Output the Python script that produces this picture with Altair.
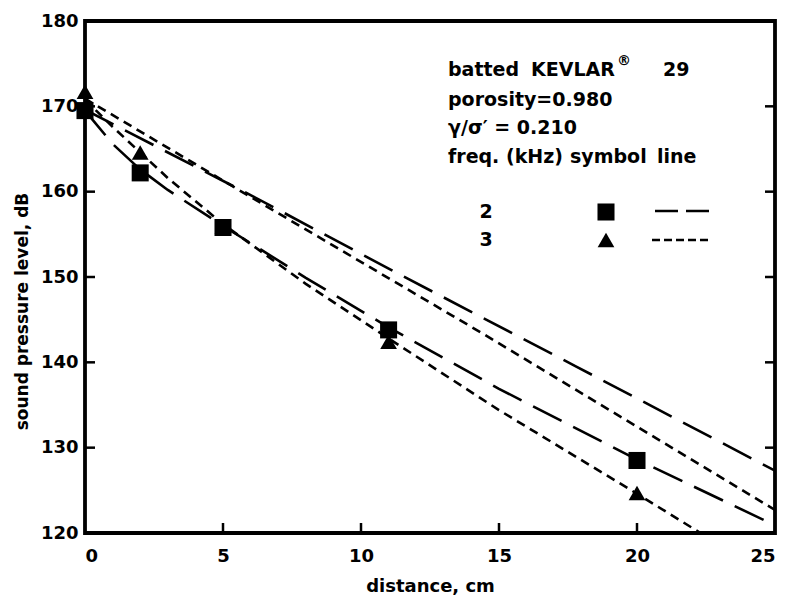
import altair as alt
import pandas as pd

# ---- measured points ----
dist_2k = [0, 2, 5, 11, 20]
spl_2k = [169.5, 162.2, 155.8, 143.8, 128.5]
dist_3k = [0, 2, 5, 11, 20]
spl_3k = [171.7, 164.6, 155.9, 142.4, 124.7]

# ---- theory curves ----
steep2_x = [0, 1, 2, 3, 5, 8, 11, 15, 20, 25]
steep2_y = [169.5, 165.6, 162.6, 160.2, 156.0, 149.9, 144.1, 136.9, 128.6, 120.9]
steep3_x = [0, 1, 2, 3, 5, 8, 11, 15, 20, 22.3]
steep3_y = [170.8, 167.6, 164.6, 161.6, 156.2, 149.2, 142.8, 134.4, 124.6, 120.0]
shallow2_x = [0, 6, 11.4, 17.8, 25]
shallow2_y = [169.6, 159.6, 150.3, 139.5, 127.3]
shallow3_x = [0, 6.2, 14.5, 25]
shallow3_y = [170.9, 159.0, 143.2, 122.7]

x_ticks = [0, 5, 10, 15, 20, 25]
y_ticks = [120, 130, 140, 150, 160, 170, 180]
inner_x_ticks = [5, 10, 15, 20]
inner_y_ticks = [130, 140, 150, 160, 170]

W, H = 690, 512
FONT = "DejaVu Sans"

xs = alt.Scale(domain=[0, 25], nice=False)
ys = alt.Scale(domain=[120, 180], nice=False)

curves = []
for name, f, xx, yy in [
    ("steep2", "2", steep2_x, steep2_y),
    ("steep3", "3", steep3_x, steep3_y),
    ("shallow2", "2", shallow2_x, shallow2_y),
    ("shallow3", "3", shallow3_x, shallow3_y),
]:
    for a, b in zip(xx, yy):
        curves.append({"curve": name, "freq": f, "x": a, "y": b})
curve_df = pd.DataFrame(curves)

pts2 = pd.DataFrame({"x": dist_2k, "y": spl_2k})
pts3 = pd.DataFrame({"x": dist_3k, "y": spl_3k})

lines = alt.Chart(curve_df).mark_line(color="black", strokeWidth=2.6, clip=True).encode(
    x=alt.X("x:Q", scale=xs, axis=alt.Axis(
        values=x_ticks, title="distance, cm", grid=False, domain=False, ticks=False,
        labelFont=FONT, labelFontSize=18, labelFontWeight="bold", labelColor="black",
        labelPadding=14, titleFont=FONT, titleFontSize=18, titleFontWeight="bold",
        titleColor="black", titlePadding=12)),
    y=alt.Y("y:Q", scale=ys, axis=alt.Axis(
        values=y_ticks, title="sound pressure level, dB", grid=False, domain=False, ticks=False,
        labelFont=FONT, labelFontSize=18, labelFontWeight="bold", labelColor="black",
        labelPadding=7, titleFont=FONT, titleFontSize=17, titleFontWeight="bold",
        titleColor="black", titleX=-63, titleY=290, titleBaseline="middle")),
    detail="curve:N",
    strokeDash=alt.StrokeDash("freq:N", scale=alt.Scale(domain=["2", "3"], range=[[32, 13], [9, 6]]), legend=None),
)

tri = alt.Chart(pts3).mark_point(shape="triangle-up", filled=True, color="black", size=280, opacity=1).encode(
    x=alt.X("x:Q", scale=xs), y=alt.Y("y:Q", scale=ys))
sq = alt.Chart(pts2).mark_point(shape="square", filled=True, color="black", size=290, opacity=1).encode(
    x=alt.X("x:Q", scale=xs), y=alt.Y("y:Q", scale=ys))

# inward ticks
lt = pd.DataFrame({"v": inner_y_ticks})
bt = pd.DataFrame({"v": inner_x_ticks})
left_ticks = alt.Chart(lt).mark_rule(color="black", strokeWidth=2.5).encode(
    y=alt.Y("v:Q", scale=ys), x=alt.value(0), x2=alt.value(10))
right_ticks = alt.Chart(lt).mark_rule(color="black", strokeWidth=2.5).encode(
    y=alt.Y("v:Q", scale=ys), x=alt.value(W - 10), x2=alt.value(W))
bottom_ticks = alt.Chart(bt).mark_rule(color="black", strokeWidth=2.5).encode(
    x=alt.X("v:Q", scale=xs), y=alt.value(H - 10), y2=alt.value(H))

one = pd.DataFrame({"a": [0]})
frame = alt.Chart(one).mark_rect(fillOpacity=0, stroke="black", strokeWidth=3.8).encode(
    x=alt.value(0), x2=alt.value(W), y=alt.value(0), y2=alt.value(H))

# annotation block
def txt(s, x, y, size=19, align="left"):
    return alt.Chart(one).mark_text(text=s, font=FONT, fontSize=size, fontWeight="bold",
                                    color="black", align=align, baseline="middle").encode(
        x=alt.value(x), y=alt.value(y))

ox, oy = 85, 21
notes = [
    txt("batted", 448 - ox, 70 - oy),
    txt("KEVLAR", 531 - ox, 70 - oy),
    txt("®", 617 - ox, 61 - oy, size=14),
    txt("29", 663 - ox, 70 - oy),
    txt("porosity=0.980", 448 - ox, 100 - oy),
    txt("γ/σ′ = 0.210", 448 - ox, 128 - oy),
    txt("freq. (kHz)", 448 - ox, 157 - oy),
    txt("symbol", 570 - ox, 157 - oy),
    txt("line", 657 - ox, 157 - oy),
    txt("2", 486 - ox, 212 - oy, align="center"),
    txt("3", 486 - ox, 240 - oy, align="center"),
]
leg_sq = alt.Chart(one).mark_point(shape="square", filled=True, color="black", size=290, opacity=1).encode(
    x=alt.value(606 - ox), y=alt.value(212 - oy))
leg_tri = alt.Chart(one).mark_point(shape="triangle-up", filled=True, color="black", size=280, opacity=1).encode(
    x=alt.value(606 - ox), y=alt.value(240 - oy))
leg_l2 = alt.Chart(one).mark_rule(color="black", strokeWidth=2.6, strokeDash=[23, 8]).encode(
    x=alt.value(655 - ox), x2=alt.value(710 - ox), y=alt.value(211 - oy))
leg_l3 = alt.Chart(one).mark_rule(color="black", strokeWidth=2.6, strokeDash=[8, 4]).encode(
    x=alt.value(652 - ox), x2=alt.value(708 - ox), y=alt.value(240 - oy))

chart = alt.layer(lines, tri, sq, left_ticks, right_ticks, bottom_ticks, frame, *notes,
                  leg_sq, leg_tri, leg_l2, leg_l3).properties(
    width=W, height=H,
    autosize=alt.AutoSizeParams(type="none"),
    padding={"left": 85, "top": 21, "right": 10, "bottom": 69},
).configure_view(stroke=None).configure(background="white")

chart.save("out.html", embed_options={"renderer": "svg", "actions": False})
